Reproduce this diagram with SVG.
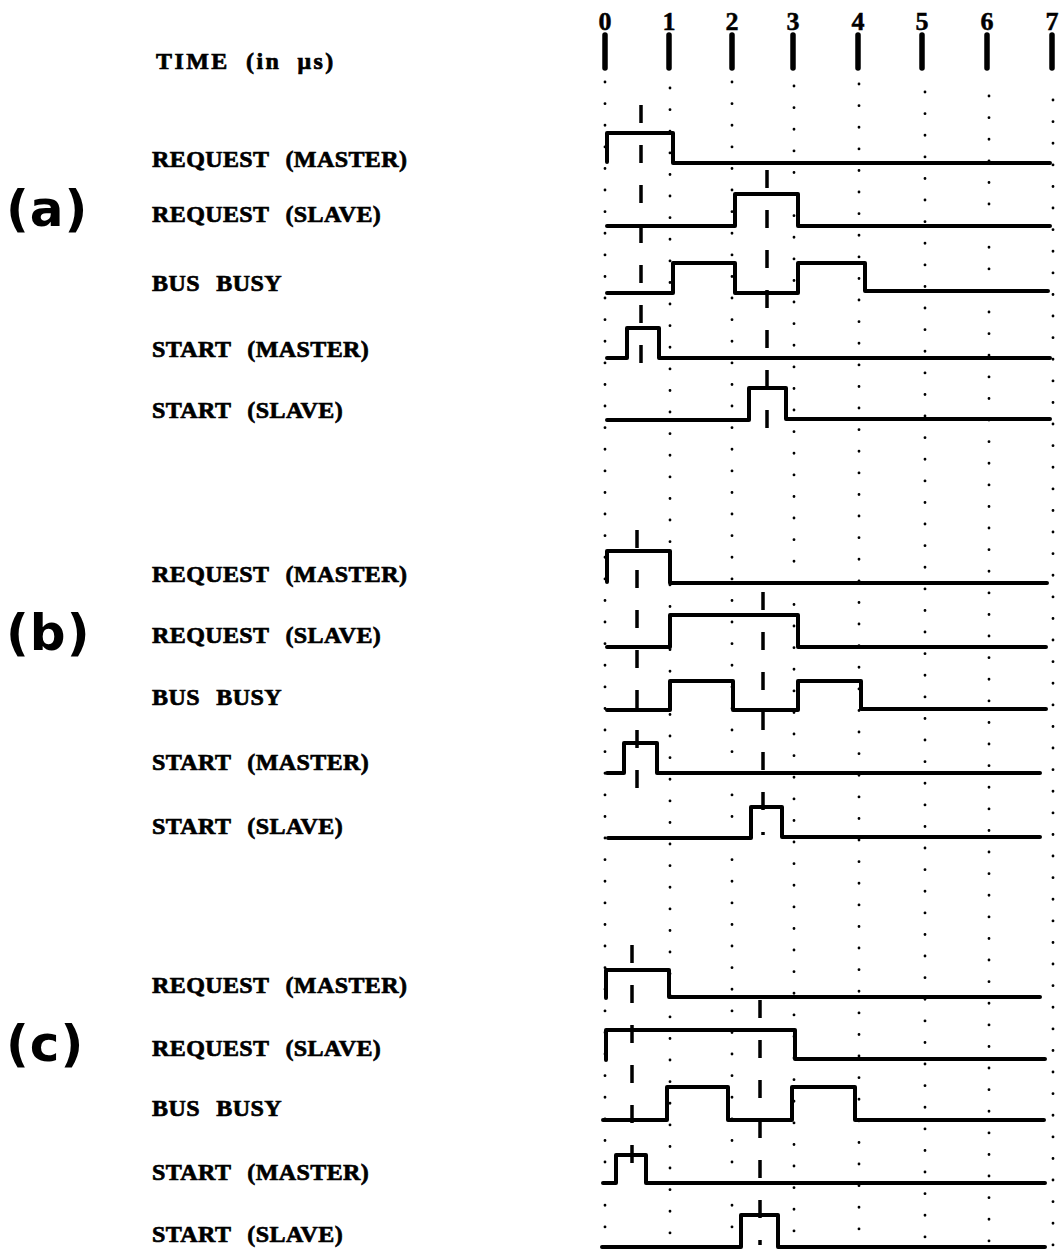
<svg xmlns="http://www.w3.org/2000/svg" width="1061" height="1252" viewBox="0 0 1061 1252">
  <style>
    .lbl { font-family: "Liberation Serif", "Times New Roman", serif; font-weight: bold; font-size: 24px; letter-spacing: 0.4px; word-spacing: 10px; fill: #000; stroke: #000; stroke-width: 0.7px; }
    .time { letter-spacing: 2.4px; word-spacing: 8px; }
    .num { font-family: "Liberation Serif", "Times New Roman", serif; font-weight: bold; font-size: 26px; fill: #000; stroke: #000; stroke-width: 0.5px; text-anchor: middle; }
    .tag { font-family: "DejaVu Sans", "Liberation Sans", sans-serif; font-weight: bold; font-size: 50px; letter-spacing: 1px; fill: #000; }
    .wave { fill: none; stroke: #000; stroke-width: 4; stroke-linejoin: round; stroke-linecap: round; }
    .tick { stroke: #000; stroke-width: 5.5; stroke-linecap: round; }
    .grid { stroke: #000; stroke-width: 2.8; stroke-linecap: round; stroke-dasharray: 0.1 21.5; }
    .mark { stroke: #000; stroke-width: 3.5; stroke-dasharray: 18 22; }
  </style>

  <!-- time axis -->
  <g id="axis">
    <text class="lbl time" x="156" y="69">TIME (in μs)</text>
    <text class="num" x="605" y="30">0</text>
    <text class="num" x="669" y="30">1</text>
    <text class="num" x="732" y="30">2</text>
    <text class="num" x="793" y="30">3</text>
    <text class="num" x="858" y="30">4</text>
    <text class="num" x="922" y="30">5</text>
    <text class="num" x="987" y="30">6</text>
    <text class="num" x="1052" y="30">7</text>
    <line class="tick" x1="605" y1="35" x2="605" y2="68"/>
    <line class="tick" x1="669" y1="35" x2="669" y2="68"/>
    <line class="tick" x1="732" y1="35" x2="732" y2="68"/>
    <line class="tick" x1="793" y1="35" x2="793" y2="68"/>
    <line class="tick" x1="858" y1="35" x2="858" y2="68"/>
    <line class="tick" x1="922" y1="35" x2="922" y2="68"/>
    <line class="tick" x1="987" y1="35" x2="987" y2="68"/>
    <line class="tick" x1="1052" y1="35" x2="1052" y2="68"/>
  </g>

  <!-- dotted grid, one column per microsecond -->
  <g id="grid">
    <line class="grid" x1="605" y1="82" x2="605" y2="1245"/>
    <line class="grid" x1="670" y1="88" x2="670" y2="1245"/>
    <line class="grid" x1="732" y1="82" x2="732" y2="1245"/>
    <line class="grid" x1="794" y1="86" x2="794" y2="1245"/>
    <line class="grid" x1="859" y1="84" x2="859" y2="1245"/>
    <line class="grid" x1="925" y1="92" x2="925" y2="1245"/>
    <line class="grid" x1="989" y1="96" x2="989" y2="1245"/>
    <line class="grid" x1="1053" y1="100" x2="1053" y2="1245"/>
  </g>

  <!-- panel (a) -->
  <g id="panel-a">
    <text class="tag" x="6" y="226">(a)</text>
    <g id="a-req-master"><text class="lbl" x="152" y="167">REQUEST (MASTER)</text><path class="wave" d="M607,162 V133 H673 V163 H1050"/></g>
    <g id="a-req-slave"><text class="lbl" x="152" y="222">REQUEST (SLAVE)</text><path class="wave" d="M607,226 H735 V194 H798 V226 H1050"/></g>
    <g id="a-bus-busy"><text class="lbl" x="152" y="291">BUS BUSY</text><path class="wave" d="M607,293 H673 V263 H735 V293 H798 V263 H865 V291 H1048"/></g>
    <g id="a-start-master"><text class="lbl" x="152" y="357">START (MASTER)</text><path class="wave" d="M607,358 H627 V328 H659 V358 H1050"/></g>
    <g id="a-start-slave"><text class="lbl" x="152" y="418">START (SLAVE)</text><path class="wave" d="M607,420 H749 V388 H786 V419 H1050"/></g>
  </g>

  <!-- panel (b) -->
  <g id="panel-b">
    <text class="tag" x="6" y="650">(b)</text>
    <g id="b-req-master"><text class="lbl" x="152" y="582">REQUEST (MASTER)</text><path class="wave" d="M607,582 V551 H670 V583 H1047"/></g>
    <g id="b-req-slave"><text class="lbl" x="152" y="643">REQUEST (SLAVE)</text><path class="wave" d="M607,647 H670 V615 H798 V647 H1046"/></g>
    <g id="b-bus-busy"><text class="lbl" x="152" y="705">BUS BUSY</text><path class="wave" d="M607,710 H670 V681 H733 V710 H798 V681 H861 V709 H1046"/></g>
    <g id="b-start-master"><text class="lbl" x="152" y="770">START (MASTER)</text><path class="wave" d="M607,773 H624 V743 H657 V773 H1040"/></g>
    <g id="b-start-slave"><text class="lbl" x="152" y="834">START (SLAVE)</text><path class="wave" d="M608,838 H751 V807 H782 V837 H1040"/></g>
  </g>

  <!-- panel (c) -->
  <g id="panel-c">
    <text class="tag" x="6" y="1061">(c)</text>
    <g id="c-req-master"><text class="lbl" x="152" y="993">REQUEST (MASTER)</text><path class="wave" d="M606,998 V970 H669 V997 H1040"/></g>
    <g id="c-req-slave"><text class="lbl" x="152" y="1056">REQUEST (SLAVE)</text><path class="wave" d="M606,1060 V1030 H795 V1059 H1045"/></g>
    <g id="c-bus-busy"><text class="lbl" x="152" y="1116">BUS BUSY</text><path class="wave" d="M603,1120 H667 V1087 H728 V1120 H792 V1087 H855 V1120 H1044"/></g>
    <g id="c-start-master"><text class="lbl" x="152" y="1180">START (MASTER)</text><path class="wave" d="M603,1183 H616 V1155 H646 V1183 H1045"/></g>
    <g id="c-start-slave"><text class="lbl" x="152" y="1242">START (SLAVE)</text><path class="wave" d="M602,1247 H741 V1215 H778 V1247 H1045"/></g>
  </g>

  <!-- dashed reference markers at 0.5 us and 2.5 us -->
  <g id="connectors">
    <line class="mark" x1="641" y1="105" x2="641" y2="372"/>
    <line class="mark" x1="767" y1="170" x2="767" y2="435"/>
    <line class="mark" x1="637" y1="530" x2="637" y2="790"/>
    <line class="mark" x1="763" y1="592" x2="763" y2="835"/>
    <line class="mark" x1="632" y1="945" x2="632" y2="1180"/>
    <line class="mark" x1="760" y1="1000" x2="760" y2="1245"/>
  </g>
</svg>
